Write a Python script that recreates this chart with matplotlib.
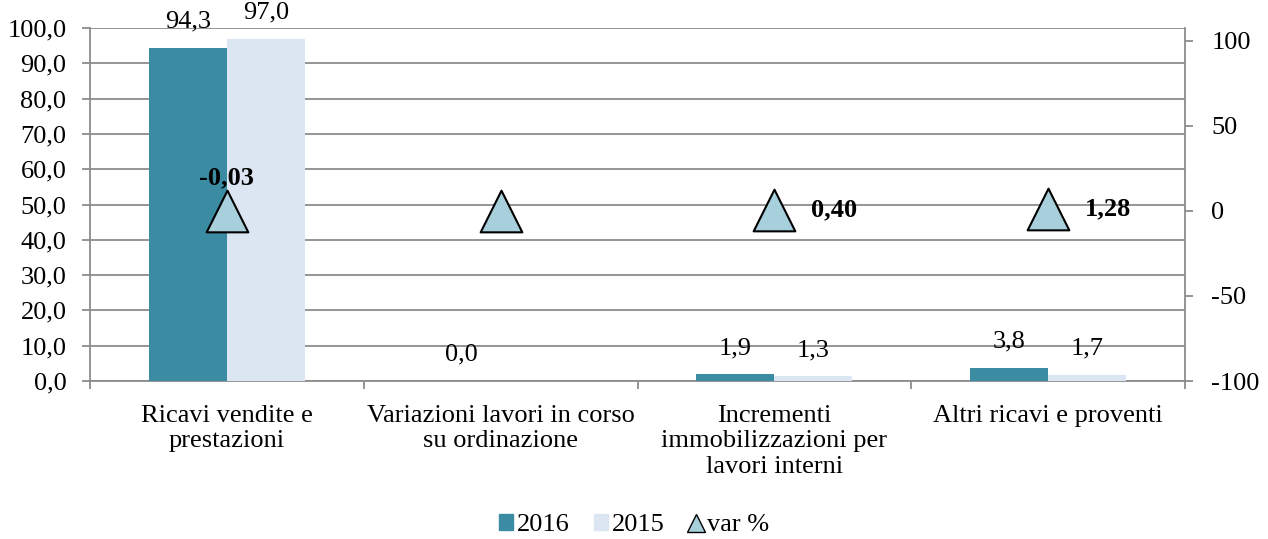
import numpy as np
import matplotlib
matplotlib.use("Agg")
import matplotlib.pyplot as plt
from matplotlib.lines import Line2D
from matplotlib.patches import Patch

plt.rcParams['font.family'] = ['Liberation Serif', 'DejaVu Serif']

categories = ["Ricavi vendite e\nprestazioni", "Variazioni lavori in corso\nsu ordinazione",
              "Incrementi\nimmobilizzazioni per\nlavori interni", "Altri ricavi e proventi"]
v2016 = [94.3, 0.0, 1.9, 3.8]
v2015 = [97.0, 0.0, 1.3, 1.7]
label2016 = ["94,3", "0,0", "1,9", "3,8"]
label2015 = ["97,0", "", "1,3", "1,7"]
var_pct = [-0.03, 0.0, 0.40, 1.28]
var_labels = ["-0,03", "", "0,40", "1,28"]

c16 = '#3B8BA3'
c15 = '#DCE6F2'
ctri = '#A8D0DC'
grid = '#8C8C8C'
fs = 19

fig = plt.figure(figsize=(12.68, 5.39), dpi=100)
ax = fig.add_axes([90 / 1268, 1 - 381 / 539, (1185 - 90) / 1268, (381 - 28) / 539])
x = np.arange(len(categories))
w = 0.285
ax.bar(x - w / 2, v2016, w, color=c16, zorder=3)
ax.bar(x + w / 2, v2015, w, color=c15, zorder=3)
for i in range(len(x)):
    ax.text(x[i] - w / 2, v2016[i] + 4.3, label2016[i], ha='center', va='bottom', fontsize=fs)
    ax.text(x[i] + w / 2, v2015[i] + 4.3, label2015[i], ha='center', va='bottom', fontsize=fs)

ax.set_xlim(-0.5, len(x) - 0.5)
ax.set_ylim(0, 100)
ax.set_yticks(np.arange(0, 101, 10))
ax.set_yticklabels([f"{v:.1f}".replace('.', ',') for v in np.arange(0, 101, 10)], fontsize=fs)
ax.yaxis.grid(True, color=grid, linewidth=1.3, zorder=0)
ax.set_axisbelow(True)
ax.set_xticks(x)
ax.set_xticklabels(categories, fontsize=fs, linespacing=1.22)
ax.set_xticks(np.arange(-0.5, len(x), 1), minor=True)
ax.tick_params(axis='x', which='major', length=0, pad=17)
ax.tick_params(axis='x', which='minor', length=6, color=grid, width=1.3)
ax.tick_params(axis='y', length=6, color=grid, width=1.3, pad=11)
for s in ['left', 'right', 'bottom']:
    ax.spines[s].set_color(grid)
    ax.spines[s].set_linewidth(1.3)
ax.spines['top'].set_visible(False)

ax2 = ax.twinx()
ax2.scatter(x, var_pct, marker='^', s=900, color=ctri, edgecolor='black', linewidth=1.5, zorder=5)
ax2.set_ylim(-100, 107.6)
ax2.set_yticks([-100, -50, 0, 50, 100])
ax2.set_yticklabels(["-100", "-50", "0", "50", "100"], fontsize=fs)
ax2.tick_params(axis='y', length=6, color=grid, width=1.3, pad=13)
for s in ['left', 'right', 'bottom', 'top']:
    ax2.spines[s].set_visible(False)
ax2.text(x[0], var_pct[0] + 13, var_labels[0], ha='center', va='bottom', fontsize=fs, fontweight='bold')
for i in [2, 3]:
    ax2.text(x[i] + 0.135, var_pct[i], var_labels[i], ha='left', va='center', fontsize=fs, fontweight='bold')

handles = [Patch(color=c16, label='2016'), Patch(color=c15, label='2015'),
           Line2D([], [], marker='^', linestyle='', markersize=13, markerfacecolor=ctri,
                  markeredgecolor='black', label='var %')]
fig.legend(handles=handles, loc='center', bbox_to_anchor=(0.5, 1 - 525 / 539), ncol=3, frameon=False,
           fontsize=fs, handlelength=0.55, handleheight=0.55, handletextpad=0.15, columnspacing=0.9)

fig.savefig('out.png', dpi=100)
